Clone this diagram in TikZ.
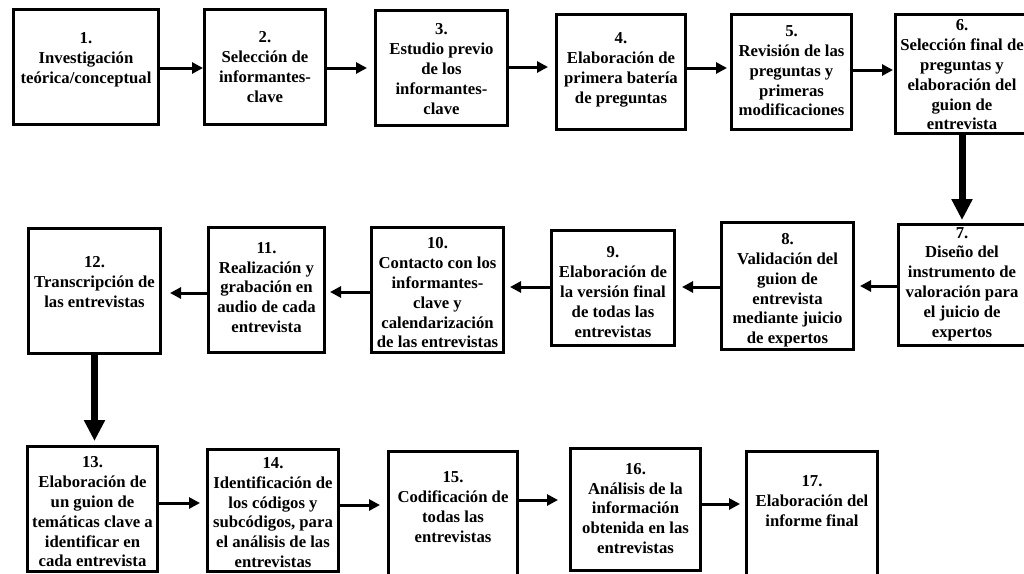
\documentclass[tikz,border=0pt]{standalone}
\usepackage{fontspec}
\setmainfont{Liberation Serif}
\usetikzlibrary{arrows.meta}

\begin{document}
\begin{tikzpicture}[x=1pt,y=-1pt,
  stepbox/.style={draw=black, line width=3pt, rectangle, inner sep=0pt, fill=white},
  steptext/.style={align=center, inner sep=0pt, text=black,
    font=\fontsize{16.7}{19.8}\selectfont\bfseries},
  harrow/.style={line width=3pt, -{Triangle[length=11pt,width=11pt]}},
  varrow/.style={line width=7pt, -{Triangle[length=21pt,width=20pt]}}]

\useasboundingbox (0,0) rectangle (1024,573);
\clip (0,0) rectangle (1024,573);
\fill[white] (0,0) rectangle (1024,573);

% first row: steps 1 to 6
\node[stepbox, minimum width=145pt, minimum height=115pt] (b1) at (86,67) {};
\node[stepbox, minimum width=121pt, minimum height=115pt] (b2) at (265,67) {};
\node[stepbox, minimum width=132pt, minimum height=115pt] (b3) at (441.5,68) {};
\node[stepbox, minimum width=129pt, minimum height=115pt] (b4) at (621,72) {};
\node[stepbox, minimum width=120pt, minimum height=115pt] (b5) at (791.5,72) {};
\node[stepbox, minimum width=133pt, minimum height=119pt] (b6) at (962,74) {};

% second row: steps 7 to 12, read right to left
\node[stepbox, minimum width=130pt, minimum height=121pt] (b7) at (963,285) {};
\node[stepbox, minimum width=132pt, minimum height=127pt] (b8) at (787.5,286) {};
\node[stepbox, minimum width=123pt, minimum height=115pt] (b9) at (613,288) {};
\node[stepbox, minimum width=132pt, minimum height=125pt] (b10) at (437.5,290) {};
\node[stepbox, minimum width=116pt, minimum height=125pt] (b11) at (266.5,290) {};
\node[stepbox, minimum width=132pt, minimum height=125pt] (b12) at (94.5,291) {};

% third row: steps 13 to 17
\node[stepbox, minimum width=130pt, minimum height=125pt] (b13) at (92.5,509) {};
\node[stepbox, minimum width=131pt, minimum height=122pt] (b14) at (273,510) {};
\node[stepbox, minimum width=129pt, minimum height=140pt] (b15) at (453,521.5) {};
\node[stepbox, minimum width=130pt, minimum height=122pt] (b16) at (635.5,509.5) {};
\node[stepbox, minimum width=131pt, minimum height=140pt] (b17) at (812,521.5) {};

% labels
\node[steptext] (t1) at (86,60) {1.\\Investigación\\teórica/conceptual};
\node[steptext] (t2) at (265,67) {2.\\Selección de\\informantes-\\clave};
\node[steptext] (t3) at (441.5,69) {3.\\Estudio previo\\de los\\informantes-\\clave};
\node[steptext] (t4) at (621,70) {4.\\Elaboración de\\primera batería\\de preguntas};
\node[steptext] (t5) at (791.5,71) {5.\\Revisión de las\\preguntas y\\primeras\\modificaciones};
\node[steptext] (t6) at (962,75) {6.\\Selección final de\\preguntas y\\elaboración del\\guion de\\entrevista};
\node[steptext] (t7) at (962,284) {7.\\Diseño del\\instrumento de\\valoración para\\el juicio de\\expertos};
\node[steptext] (t8) at (787.5,290.5) {8.\\Validación del\\guion de\\entrevista\\mediante juicio\\de expertos};
\node[steptext] (t9) at (613,292) {9.\\Elaboración de\\la versión final\\de todas las\\entrevistas};
\node[steptext] (t10) at (437.5,293) {10.\\Contacto con los\\informantes-\\clave y\\calendarización\\de las entrevistas};
\node[steptext] (t11) at (266.5,287.5) {11.\\Realización y\\grabación en\\audio de cada\\entrevista};
\node[steptext] (t12) at (94.5,282) {12.\\Transcripción de\\las entrevistas};
\node[steptext] (t13) at (92.5,512) {13.\\Elaboración de\\un guion de\\temáticas clave a\\identificar en\\cada entrevista};
\node[steptext] (t14) at (273,512.5) {14.\\Identificación de\\los códigos y\\subcódigos, para\\el análisis de las\\entrevistas};
\node[steptext] (t15) at (453,507) {15.\\Codificación de\\todas las\\entrevistas};
\node[steptext] (t16) at (635.5,508.5) {16.\\Análisis de la\\información\\obtenida en las\\entrevistas};
\node[steptext] (t17) at (812,501) {17.\\Elaboración del\\informe final};

% connectors, first row
\draw[harrow] (b1.east |- 0,68) -- (b2.west |- 0,68);
\draw[harrow, shorten >=7pt] (b2.east |- 0,68) -- (b3.west |- 0,68);
\draw[harrow, shorten >=7pt] (b3.east |- 0,67) -- (b4.west |- 0,67);
\draw[harrow, shorten >=3pt] (b4.east |- 0,68) -- (b5.west |- 0,68);
\draw[harrow, shorten >=1pt] (b5.east |- 0,70) -- (b6.west |- 0,70);

% down to the second row
\draw[varrow, shorten >=3pt] (b6.south) -- (b6.south |- b7.north);

% connectors, second row
\draw[harrow, shorten >=5pt] (b7.west |- 0,286) -- (b8.east |- 0,286);
\draw[harrow, shorten >=6pt] (b8.west |- 0,287) -- (b9.east |- 0,287);
\draw[harrow, shorten >=5pt] (b9.west |- 0,287) -- (b10.east |- 0,287);
\draw[harrow, shorten >=4pt] (b10.west |- 0,292) -- (b11.east |- 0,292);
\draw[harrow, shorten >=8pt] (b11.west |- 0,293) -- (b12.east |- 0,293);

% down to the third row
\draw[varrow, shorten >=4pt] (b12.south) -- (b12.south |- b13.north);

% connectors, third row
\draw[harrow, shorten >=6pt] (b13.east |- 0,503) -- (b14.west |- 0,503);
\draw[harrow, shorten >=7pt] (b14.east |- 0,505) -- (b15.west |- 0,505);
\draw[harrow, shorten >=11pt] (b15.east |- 0,500) -- (b16.west |- 0,500);
\draw[harrow, shorten >=5pt] (b16.east |- 0,504) -- (b17.west |- 0,504);
\end{tikzpicture}
\end{document}
